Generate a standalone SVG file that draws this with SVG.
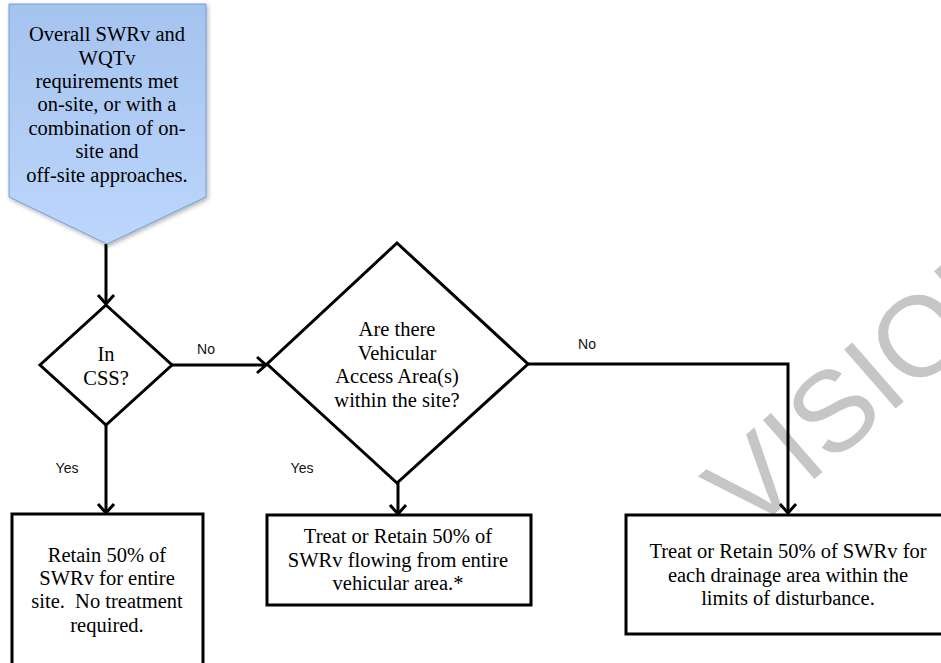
<svg xmlns="http://www.w3.org/2000/svg" width="941" height="663" viewBox="0 0 941 663">
  <defs>
    <linearGradient id="startFill" x1="0" y1="0" x2="0" y2="1">
      <stop offset="0" stop-color="#a4c3ee"/>
      <stop offset="1" stop-color="#bdd6fc"/>
    </linearGradient>
    <filter id="softShadow" x="-10%" y="-10%" width="130%" height="130%">
      <feDropShadow dx="1.5" dy="2" stdDeviation="2" flood-color="#000" flood-opacity="0.3"/>
    </filter>
    <marker id="arrow" markerUnits="userSpaceOnUse" markerWidth="22" markerHeight="22" refX="12" refY="11" orient="auto">
      <path d="M3,3 L12,11 L3,19" fill="none" stroke="#000" stroke-width="3" stroke-linejoin="miter"/>
    </marker>
    <style>
      .shape { fill: #fff; stroke: #000; stroke-width: 3; }
      .label { font-family: "Liberation Serif", "Times New Roman", serif; font-size: 20.5px; fill: #000; text-anchor: middle; }
      .edge-label { font-family: "Liberation Sans", Arial, sans-serif; font-size: 14px; fill: #111; text-anchor: middle; }
      .edge { fill: none; stroke: #000; stroke-width: 3; }
      .watermark { font-family: "Liberation Sans", Arial, sans-serif; font-size: 114px; fill: #c6c6c6; }
    </style>
  </defs>

  <rect width="941" height="663" fill="#fff"/>

  <!-- background watermark, partly covered by the boxes -->
  <text class="watermark" transform="translate(749,536) rotate(-41)">VISION</text>

  <g id="connectors">
    <line class="edge" x1="106" y1="244" x2="106" y2="304" marker-end="url(#arrow)"/>
    <line class="edge" x1="172" y1="365" x2="266" y2="365" marker-end="url(#arrow)"/>
    <line class="edge" x1="106" y1="425" x2="106" y2="513" marker-end="url(#arrow)"/>
    <line class="edge" x1="398" y1="483" x2="398" y2="514" marker-end="url(#arrow)"/>
    <polyline class="edge" points="528,364 788,364 788,513" stroke-linejoin="miter" marker-end="url(#arrow)"/>
    <text class="edge-label" x="206" y="354">No</text>
    <text class="edge-label" x="587" y="349">No</text>
    <text class="edge-label" x="67" y="473">Yes</text>
    <text class="edge-label" x="302" y="473">Yes</text>
  </g>

  <g id="start">
    <path d="M9,4 H206 V197 L107,244 L9,197 Z" fill="url(#startFill)" stroke="#6e9fd9" stroke-width="1" filter="url(#softShadow)"/>
    <text class="label"><tspan x="107" y="41">Overall SWRv and</tspan><tspan x="107" y="64.5">WQTv</tspan><tspan x="107" y="88">requirements met</tspan><tspan x="107" y="111">on-site, or with a</tspan><tspan x="107" y="134.5">combination of on-</tspan><tspan x="107" y="158">site and</tspan><tspan x="107" y="181.5">off-site approaches.</tspan></text>
  </g>

  <g id="in-css">
    <path class="shape" d="M106,305 L172,365 L106,425 L40,365 Z"/>
    <text class="label"><tspan x="106" y="361">In</tspan><tspan x="106" y="385">CSS?</tspan></text>
  </g>

  <g id="vehicular-access">
    <path class="shape" d="M397,243 L528,364 L397,483 L267,364 Z"/>
    <text class="label"><tspan x="397" y="336">Are there</tspan><tspan x="397" y="360">Vehicular</tspan><tspan x="397" y="383">Access Area(s)</tspan><tspan x="397" y="407">within the site?</tspan></text>
  </g>

  <g id="retain-site">
    <rect class="shape" x="12" y="514" width="191" height="170"/>
    <text class="label"><tspan x="107" y="562">Retain 50% of</tspan><tspan x="107" y="585">SWRv for entire</tspan><tspan x="107" y="608">site.&#160; No treatment</tspan><tspan x="107" y="632">required.</tspan></text>
  </g>

  <g id="treat-vehicular">
    <rect class="shape" x="267" y="515" width="264" height="90"/>
    <text class="label"><tspan x="398" y="543">Treat or Retain 50% of</tspan><tspan x="398" y="567">SWRv flowing from entire</tspan><tspan x="398" y="590">vehicular area.*</tspan></text>
  </g>

  <g id="treat-drainage">
    <rect class="shape" x="626" y="515" width="330" height="119"/>
    <text class="label"><tspan x="788" y="558">Treat or Retain 50% of SWRv for</tspan><tspan x="788" y="582">each drainage area within the</tspan><tspan x="788" y="605">limits of disturbance.</tspan></text>
  </g>
</svg>
